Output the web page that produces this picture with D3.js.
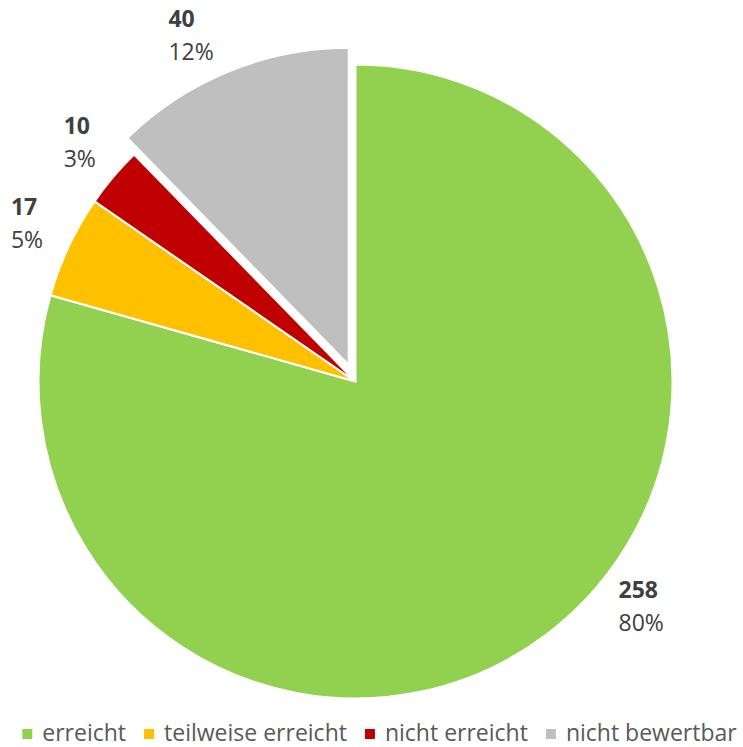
<!DOCTYPE html>
<html>
<head>
<meta charset="utf-8">
<script src="https://cdn.jsdelivr.net/npm/d3@7"></script>
<style>
  html, body { margin: 0; padding: 0; background: #ffffff; }
  svg { display: block; }
  text { font-family: "Open Sans", "Liberation Sans", sans-serif; }
</style>
</head>
<body>
<svg id="chart" width="743" height="747"></svg>
<script>
// ---- data ----
const categories = ["erreicht", "teilweise erreicht", "nicht erreicht", "nicht bewertbar"];
const values = [258, 17, 10, 40];
const percentLabels = ["80%", "5%", "3%", "12%"];
const colors = ["#92D050", "#FFC000", "#C00000", "#BFBFBF"];

// ---- layout ----
const W = 743, H = 747;
const cx = 355.5, cy = 381.5, R = 317;
const explode = [0, 0, 0, 18];
const labelDist = 364;
const labelAngleAdjustDeg = [-14.6, 0.3, 0.6, -3.5];
const fontSize = 23;

const svg = d3.select("#chart");
const g = svg.append("g").attr("transform", `translate(${cx},${cy})`);

const pie = d3.pie().sort(null).value(d => d.value);
const arcs = pie(categories.map((c, i) => ({ cat: c, value: values[i], i })));
const arc = d3.arc().innerRadius(0).outerRadius(R);

const color = d3.scaleOrdinal().domain(categories).range(colors);

function offsetFor(d, dist) {
  const a = (d.startAngle + d.endAngle) / 2;
  return [Math.sin(a) * dist, -Math.cos(a) * dist];
}

g.selectAll("path.slice")
  .data(arcs)
  .join("path")
  .attr("class", "slice")
  .attr("d", arc)
  .attr("fill", d => color(d.data.cat))
  .attr("stroke", "#ffffff")
  .attr("stroke-width", 2)
  .attr("stroke-linejoin", "round")
  .attr("transform", d => {
    const [dx, dy] = offsetFor(d, explode[d.data.i]);
    return `translate(${dx},${dy})`;
  });

// ---- data labels ----
const labels = g.selectAll("g.lbl")
  .data(arcs)
  .join("g")
  .attr("class", "lbl");

labels.each(function(d) {
  const i = d.data.i;
  const sel = d3.select(this);
  const [ex, ey] = offsetFor(d, explode[i]);
  const a = (d.startAngle + d.endAngle) / 2 + labelAngleAdjustDeg[i] * Math.PI / 180;
  const px = ex + Math.sin(a) * labelDist;
  const py = ey - Math.cos(a) * labelDist;
  const t1 = sel.append("text")
    .attr("font-size", fontSize)
    .attr("font-weight", "bold")
    .attr("fill", "#404040")
    .attr("y", py - 9.5)
    .text(d.data.value);
  const t2 = sel.append("text")
    .attr("font-size", fontSize)
    .attr("fill", "#404040")
    .attr("y", py + 23.5)
    .text(percentLabels[i]);
  const w = Math.max(t1.node().getComputedTextLength(), t2.node().getComputedTextLength());
  t1.attr("x", px - w / 2);
  t2.attr("x", px - w / 2);
});

// ---- legend ----
const legend = svg.append("g").attr("class", "legend");
const marker = 10, gapMT = 10, gapItems = 18;
const items = legend.selectAll("g.item")
  .data(categories)
  .join("g")
  .attr("class", "item");
items.append("rect")
  .attr("width", marker)
  .attr("height", marker)
  .attr("y", 729)
  .attr("fill", d => color(d));
items.append("text")
  .attr("font-size", fontSize)
  .attr("fill", "#595959")
  .attr("x", marker + gapMT)
  .attr("y", 741)
  .text(d => d);

let widths = [];
items.each(function() {
  widths.push(marker + gapMT + d3.select(this).select("text").node().getComputedTextLength());
});
const total = d3.sum(widths) + gapItems * (widths.length - 1);
let x0 = 379.5 - total / 2;
items.attr("transform", (d, i) => {
  const x = x0;
  x0 += widths[i] + gapItems;
  return `translate(${x},0)`;
});
</script>
</body>
</html>
